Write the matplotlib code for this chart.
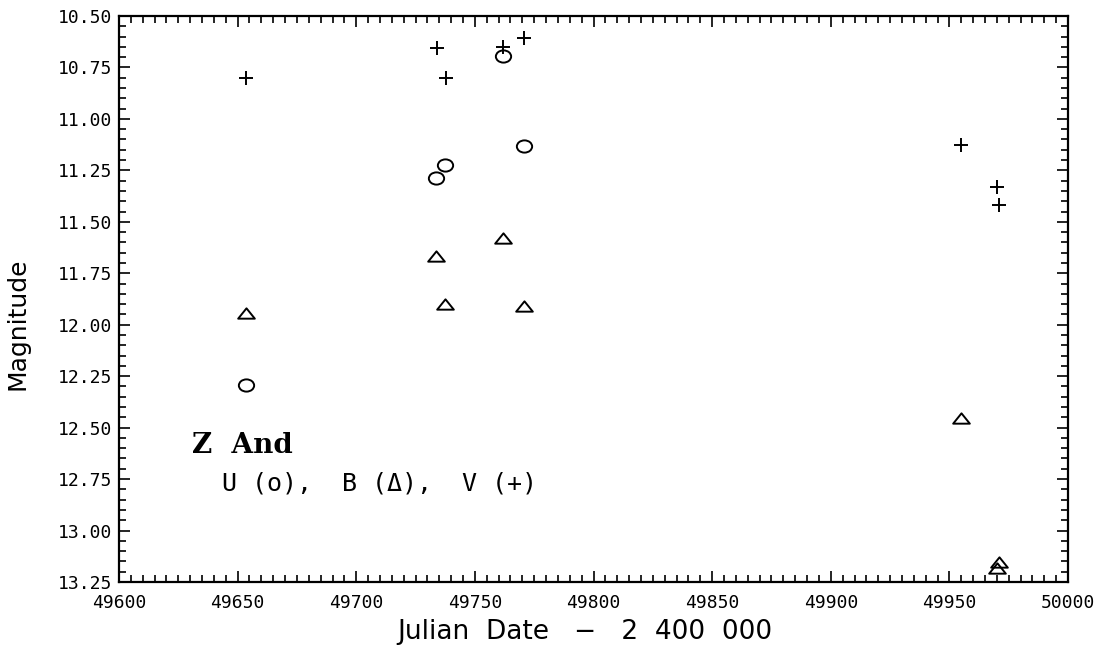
import matplotlib
matplotlib.use("Agg")
import matplotlib.pyplot as plt
from matplotlib.path import Path
from matplotlib.transforms import Affine2D
from matplotlib.ticker import MultipleLocator, FormatStrFormatter

# ---- data (JD - 2400000, magnitude) ----
u_jd = [49653.4, 49733.6, 49737.5, 49761.7, 49770.7]
u_mag = [12.295, 11.286, 11.224, 10.694, 11.130]

b_jd = [49653.4, 49733.8, 49737.6, 49761.7, 49770.7, 49954.9, 49971.1, 49970.1]
b_mag = [11.945, 11.666, 11.899, 11.577, 11.908, 12.455, 13.152, 13.184]

v_jd = [49653.5, 49733.9, 49737.8, 49761.7, 49770.7, 49954.9, 49970.1, 49971.1]
v_mag = [10.800, 10.654, 10.800, 10.649, 10.605, 11.128, 11.329, 11.418]

x_ticks = [49600, 49650, 49700, 49750, 49800, 49850, 49900, 49950, 50000]
y_ticks = [10.50, 10.75, 11.00, 11.25, 11.50, 11.75, 12.00, 12.25, 12.50, 12.75, 13.00, 13.25]

# ---- custom marker shapes (slightly wide, like the original plot symbols) ----
ellipse = Path.unit_circle().transformed(Affine2D().scale(1.0, 0.8))
tri = Path([(-1, -0.62), (1, -0.62), (0, 0.62), (-1, -0.62)],
           [Path.MOVETO, Path.LINETO, Path.LINETO, Path.CLOSEPOLY])

fig = plt.figure(figsize=(11.07, 6.45), dpi=100)
ax = fig.add_axes([0.1075, 0.0977, 0.8573, 0.8775])

ax.plot(u_jd, u_mag, linestyle="none", marker=ellipse, markersize=11,
        markerfacecolor="none", markeredgecolor="black", markeredgewidth=1.4)
ax.plot(b_jd, b_mag, linestyle="none", marker=tri, markersize=12,
        markerfacecolor="none", markeredgecolor="black", markeredgewidth=1.4)
ax.plot(v_jd, v_mag, linestyle="none", marker="+", markersize=10,
        markeredgecolor="black", markeredgewidth=1.4)

ax.set_xlim(49600, 50000)
ax.set_ylim(13.25, 10.50)

ax.set_xticks(x_ticks)
ax.set_yticks(y_ticks)
ax.xaxis.set_minor_locator(MultipleLocator(5))
ax.yaxis.set_minor_locator(MultipleLocator(0.05))
ax.yaxis.set_major_formatter(FormatStrFormatter("%.2f"))

ax.tick_params(which="both", direction="in", top=True, right=True,
               color="black", width=1.2)
ax.tick_params(which="major", length=8)
ax.tick_params(which="minor", length=5)
ax.tick_params(axis="x", which="major", pad=9)
ax.tick_params(axis="y", which="major", pad=5)
for lab in ax.get_xticklabels() + ax.get_yticklabels():
    lab.set_fontfamily("DejaVu Sans Mono")
    lab.set_fontsize(13)

for sp in ax.spines.values():
    sp.set_linewidth(1.6)
    sp.set_color("black")

ax.set_xlabel("Julian  Date   \u2212   2  400  000", fontsize=19,
              family="DejaVu Sans")
ax.xaxis.set_label_coords(0.491, -0.066)
ax.set_ylabel("Magnitude", fontsize=18, family="DejaVu Sans")
ax.yaxis.set_label_coords(-0.094, 0.456)

ax.text(0.077, 0.228, "Z  And", transform=ax.transAxes, fontsize=20,
        family="DejaVu Serif", fontweight="bold", va="baseline", ha="left")
ax.text(0.109, 0.1625, "U (o),  B (\u0394),  V (+)", transform=ax.transAxes,
        fontsize=18, family="DejaVu Sans Mono", va="baseline", ha="left")

fig.savefig("out.png", dpi=100)
